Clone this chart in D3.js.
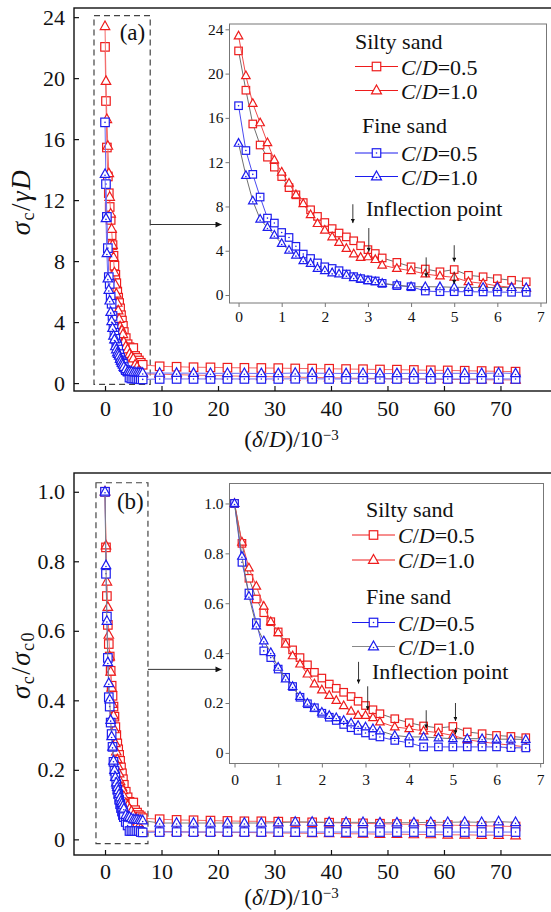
<!DOCTYPE html>
<html>
<head>
<meta charset="utf-8">
<script src="https://cdn.jsdelivr.net/npm/d3@7"></script>
<style>
  html, body { margin: 0; padding: 0; background: #fff; }
  svg { display: block; }
  text { font-family: "Liberation Serif", "Times New Roman", serif; fill: #111; }
</style>
</head>
<body>
<svg id="chart" width="551" height="912"></svg>
<script>
// Displacement ratio (δ/D)/10^-3 at the densely sampled start of the tests
const xEarly = [0, 0.17, 0.33, 0.5, 0.67, 0.83, 1.0, 1.17, 1.33, 1.5, 1.67, 1.83, 2.0, 2.17, 2.33,
                2.5, 2.67, 2.83, 3.0, 3.17, 3.33, 3.67, 4.0, 4.33, 4.67, 5.0, 5.33, 5.67, 6.0, 6.33, 6.67];
// ... and at the coarsely sampled remainder
const xLate = [9.67, 12.67, 15.67, 18.67, 21.67, 24.67, 27.67, 30.67, 33.67, 36.67, 39.67,
               42.67, 45.67, 48.67, 51.67, 54.67, 57.67, 60.67, 63.67, 66.67, 69.67, 72.67];

// (a) support pressure σc/γD
const siltyHalfA = [22.05, 18.5, 15.45, 13.55, 12.45, 11.55, 10.7, 9.7, 9.05, 8.35, 7.7, 7.1, 6.55, 6.0, 5.6,
                    5.25, 4.9, 4.45, 4.1, 3.75, 3.35, 2.95, 2.55, 2.35, 2.1, 2.3, 1.78, 1.65, 1.48, 1.33, 1.2];
const siltyOneA  = [23.4, 19.8, 17.3, 15.55, 13.75, 12.2, 11.1, 10.1, 9.05, 8.25, 7.25, 6.45, 5.85, 5.25, 4.75,
                    4.2, 3.7, 3.4, 3.45, 3.2, 2.7, 2.4, 2.2, 1.9, 1.72, 1.6, 1.2, 1.05, 0.82, 0.7, 0.6];
const fineHalfA  = [17.1, 13.05, 10.9, 8.85, 6.95, 6.5, 5.65, 5.2, 4.4, 3.7, 3.3, 2.9, 2.55, 2.4, 2.2,
                    1.9, 1.66, 1.48, 1.36, 1.27, 1.05, 0.85, 0.75, 0.36, 0.3, 0.3, 0.3, 0.28, 0.27, 0.25, 0.24];
const fineOneA   = [13.7, 10.8, 8.5, 6.85, 6.1, 5.4, 4.65, 4.05, 3.6, 3.1, 2.85, 2.4, 2.2, 2.0, 1.9,
                    1.78, 1.57, 1.45, 1.3, 1.2, 1.05, 0.9, 0.75, 0.75, 0.74, 0.7, 0.69, 0.68, 0.68, 0.67, 0.66];
const siltyHalfLateA = [1.1, 1.07, 1.04, 1.03, 1.01, 1.0, 0.99, 0.98, 0.96, 0.95, 0.94,
                        0.92, 0.91, 0.89, 0.88, 0.86, 0.84, 0.83, 0.81, 0.79, 0.77, 0.75];
const siltyOneLateA  = [0.58, 0.55, 0.52, 0.5, 0.47, 0.45, 0.43, 0.41, 0.39, 0.37, 0.35,
                        0.33, 0.31, 0.3, 0.28, 0.27, 0.25, 0.24, 0.23, 0.22, 0.21, 0.2];
const fineHalfLateA  = [0.27, 0.27, 0.27, 0.27, 0.27, 0.27, 0.27, 0.27, 0.28, 0.28, 0.27,
                        0.27, 0.27, 0.27, 0.27, 0.27, 0.27, 0.27, 0.27, 0.27, 0.27, 0.27];
const fineOneLateA   = [0.66, 0.65, 0.65, 0.64, 0.64, 0.64, 0.63, 0.63, 0.66, 0.65, 0.64,
                        0.63, 0.64, 0.62, 0.63, 0.64, 0.63, 0.64, 0.64, 0.63, 0.66, 0.63];

// (b) normalised support pressure σc/σc0
const siltyHalfB = [1.0, 0.84, 0.70, 0.617, 0.562, 0.526, 0.485, 0.442, 0.413, 0.382, 0.353, 0.323, 0.30, 0.276, 0.259,
                    0.243, 0.226, 0.207, 0.19, 0.173, 0.157, 0.137, 0.121, 0.108, 0.10, 0.106, 0.084, 0.077, 0.07, 0.066, 0.061];
const siltyOneB  = [1.0, 0.845, 0.741, 0.668, 0.588, 0.526, 0.482, 0.436, 0.389, 0.356, 0.316, 0.276, 0.252, 0.23, 0.21,
                    0.189, 0.167, 0.15, 0.15, 0.141, 0.124, 0.104, 0.097, 0.088, 0.081, 0.07, 0.053, 0.044, 0.037, 0.031, 0.024];
const fineHalfB  = [1.0, 0.764, 0.641, 0.522, 0.409, 0.382, 0.336, 0.303, 0.266, 0.223, 0.197, 0.181, 0.159, 0.143, 0.13,
                    0.114, 0.101, 0.09, 0.08, 0.07, 0.064, 0.05, 0.04, 0.024, 0.024, 0.024, 0.024, 0.024, 0.024, 0.021, 0.02];
const fineOneB   = [1.0, 0.788, 0.628, 0.509, 0.449, 0.402, 0.343, 0.296, 0.266, 0.226, 0.199, 0.179, 0.163, 0.15, 0.141,
                    0.13, 0.12, 0.11, 0.104, 0.097, 0.088, 0.07, 0.064, 0.064, 0.06, 0.057, 0.057, 0.057, 0.055, 0.055, 0.054];
const siltyHalfLateB = [0.058, 0.056, 0.055, 0.054, 0.053, 0.052, 0.052, 0.051, 0.05, 0.049, 0.048,
                        0.047, 0.046, 0.045, 0.044, 0.043, 0.042, 0.041, 0.04, 0.039, 0.038, 0.037];
const siltyOneLateB  = [0.023, 0.022, 0.021, 0.021, 0.02, 0.02, 0.019, 0.018, 0.018, 0.017, 0.017,
                        0.016, 0.016, 0.015, 0.015, 0.014, 0.014, 0.013, 0.013, 0.012, 0.012, 0.011];
const fineHalfLateB  = [0.021, 0.021, 0.021, 0.021, 0.021, 0.021, 0.021, 0.021, 0.021, 0.021, 0.021,
                        0.021, 0.021, 0.021, 0.021, 0.021, 0.021, 0.021, 0.021, 0.021, 0.021, 0.021];
const fineOneLateB   = [0.047, 0.047, 0.047, 0.047, 0.047, 0.047, 0.047, 0.048, 0.05, 0.05, 0.049,
                        0.049, 0.049, 0.048, 0.048, 0.048, 0.049, 0.049, 0.05, 0.049, 0.051, 0.049];

// Tick labels
const mainXTicks = [0, 10, 20, 30, 40, 50, 60, 70];
const insetXTicks = [0, 1, 2, 3, 4, 5, 6, 7];
const yTicksA = [0, 4, 8, 12, 16, 20, 24];
const yTicksB = [0, 0.2, 0.4, 0.6, 0.8, 1.0];

// Inflection-point arrows in inset units: [x, from, to]
const inflectionA = [[2.65, 8.2, 6.5], [3.02, 6.05, 3.9], [4.35, 3.4, 1.6], [5.0, 4.5, 3.0], [5.0, 2.1, 1.0]];
const inflectionB = [[2.84, 0.365, 0.278], [3.05, 0.267, 0.171], [4.39, 0.171, 0.098], [5.06, 0.2, 0.128], [5.06, 0.1, 0.075]];

const RED = "#ee1c1c", BLUE = "#1c1cee";

const svg = d3.select("#chart");
svg.append("rect").attr("width", 551).attr("height", 912).attr("fill", "#fff");

const defs = svg.append("defs");
defs.append("marker").attr("id", "headBig").attr("viewBox", "0 0 10 10")
  .attr("refX", 10).attr("refY", 5).attr("markerWidth", 10).attr("markerHeight", 6)
  .attr("markerUnits", "userSpaceOnUse").attr("orient", "auto")
  .append("path").attr("d", "M0,0L10,5L0,10z").attr("fill", "#111");
defs.append("marker").attr("id", "headSmall").attr("viewBox", "0 0 10 10")
  .attr("refX", 10).attr("refY", 5).attr("markerWidth", 6).attr("markerHeight", 4)
  .attr("markerUnits", "userSpaceOnUse").attr("orient", "auto")
  .append("path").attr("d", "M0,0L10,5L0,10z").attr("fill", "#111");

function drawMarker(g, shape, color, x, y, size, dot) {
  if (shape === "square") {
    g.append("rect").attr("x", x - size / 2).attr("y", y - size / 2)
      .attr("width", size).attr("height", size)
      .attr("fill", "#fff").attr("stroke", color).attr("stroke-width", 1.2);
  } else {
    const h = size * 0.9;
    g.append("path")
      .attr("d", `M${x},${y - h * 0.62}L${x + size / 2},${y + h * 0.38}L${x - size / 2},${y + h * 0.38}Z`)
      .attr("fill", "#fff").attr("stroke", color).attr("stroke-width", 1.2);
  }
  if (dot) {
    g.append("circle").attr("cx", x).attr("cy", shape === "square" ? y : y + 1)
      .attr("r", 0.8).attr("fill", color);
  }
}

function drawSeries(g, xs, ys, x, y, lineColor, shape, markColor, size, dot) {
  const pts = xs.map((d, i) => [d, ys[i]]);
  g.append("path").datum(pts)
    .attr("d", d3.line().x(d => x(d[0])).y(d => y(d[1])))
    .attr("fill", "none").attr("stroke", lineColor).attr("stroke-width", 1);
  const mg = g.append("g");
  pts.forEach(p => drawMarker(mg, shape, markColor, x(p[0]), y(p[1]), size, dot));
}

function styleAxis(sel, color, width) {
  sel.select(".domain").remove();
  sel.selectAll(".tick line").attr("stroke", color).attr("stroke-width", width);
  sel.selectAll(".tick text").style("font-family", '"Liberation Serif", serif').attr("fill", "#111");
}

function yLabel(g, parts, cx, cy) {
  const t = g.append("text").attr("transform", `translate(${cx},${cy}) rotate(-90)`)
    .attr("text-anchor", "middle").style("font-size", "27px").style("letter-spacing", "1.5px");
  parts.forEach(p => {
    const s = t.append("tspan").text(p.t);
    if (p.i) s.style("font-style", "italic");
    if (p.sub) s.attr("baseline-shift", "-22%").style("font-size", "18px");
  });
}

function legendLabel(g, x, y, val) {
  const t = g.append("text").attr("x", x).attr("y", y).style("font-size", "22px");
  t.append("tspan").text("C").style("font-style", "italic");
  t.append("tspan").text("/");
  t.append("tspan").text("D").style("font-style", "italic");
  t.append("tspan").text("=" + val);
}

function panel(cfg) {
  const g = svg.append("g");
  const x = d3.scaleLinear().domain(cfg.xDom).range([cfg.left, cfg.right]);
  const y = d3.scaleLinear().domain(cfg.yDom).range([cfg.bottom, cfg.top]);

  // frame of the full-range plot
  g.append("rect").attr("x", cfg.left).attr("y", cfg.top)
    .attr("width", cfg.right - cfg.left).attr("height", cfg.bottom - cfg.top)
    .attr("fill", "none").attr("stroke", "#111").attr("stroke-width", 1.4);

  const clipId = "clip" + cfg.id;
  defs.append("clipPath").attr("id", clipId).append("rect")
    .attr("x", cfg.left).attr("y", cfg.top).attr("width", cfg.right - cfg.left).attr("height", cfg.bottom - cfg.top);

  const gx = g.append("g").attr("transform", `translate(0,${cfg.bottom})`)
    .call(d3.axisBottom(x).tickValues(mainXTicks).tickSize(-5).tickPadding(cfg.xPad).tickFormat(d3.format("d")));
  styleAxis(gx, "#111", 1.2);
  gx.selectAll(".tick text").style("font-size", "22px");

  const gy = g.append("g").attr("transform", `translate(${cfg.left},0)`)
    .call(d3.axisLeft(y).tickValues(cfg.yTicks).tickSize(-5).tickPadding(9).tickFormat(cfg.yFmt));
  styleAxis(gy, "#111", 1.2);
  gy.selectAll(".tick text").style("font-size", "22px");

  // dashed box around the early stage
  g.append("rect").attr("x", x(cfg.box[0])).attr("y", y(cfg.box[3]))
    .attr("width", x(cfg.box[1]) - x(cfg.box[0])).attr("height", y(cfg.box[2]) - y(cfg.box[3]))
    .attr("fill", "none").attr("stroke", "#444").attr("stroke-width", 1.2).attr("stroke-dasharray", "6,4");

  const xsAll = xEarly.concat(xLate);
  const plot = g.append("g").attr("clip-path", `url(#${clipId})`);
  const s = cfg.series;
  drawSeries(plot, xsAll, s.siltyHalf, x, y, "#f46a6a", "square", RED, 8.5, false);
  drawSeries(plot, xsAll, s.siltyOne, x, y, "#f46a6a", "triangle", RED, 9.5, false);
  drawSeries(plot, xsAll, s.fineHalf, x, y, "#6a6af4", "square", BLUE, 8.5, true);
  drawSeries(plot, xsAll, s.fineOne, x, y, cfg.fineOneMain, "triangle", BLUE, 9.5, true);

  g.append("text").attr("x", x(cfg.tag[0])).attr("y", y(cfg.tag[1]))
    .style("font-size", "23px").text(cfg.tagText);

  yLabel(g, cfg.yTitle, 30, cfg.yTitleY);

  const xt = g.append("text").attr("x", x(33)).attr("y", cfg.xTitleY)
    .attr("text-anchor", "middle").style("font-size", "23px");
  xt.append("tspan").text("(");
  xt.append("tspan").text("δ").style("font-style", "italic");
  xt.append("tspan").text("/");
  xt.append("tspan").text("D").style("font-style", "italic");
  xt.append("tspan").text(")/10");
  xt.append("tspan").text("−3").attr("baseline-shift", "48%").style("font-size", "15px");

  // inset with the early stage enlarged
  const ix = d3.scaleLinear().domain(cfg.inset.xDom).range([cfg.inset.left, cfg.inset.right]);
  const iy = d3.scaleLinear().domain(cfg.inset.yDom).range([cfg.inset.bottom, cfg.inset.top]);
  const ig = g.append("g");
  ig.append("rect").attr("x", cfg.inset.left).attr("y", cfg.inset.top)
    .attr("width", cfg.inset.right - cfg.inset.left).attr("height", cfg.inset.bottom - cfg.inset.top)
    .attr("fill", "#fff").attr("stroke", "#777").attr("stroke-width", 1);

  // arrow from the dashed box to the inset
  g.append("line").attr("x1", x(cfg.box[1])).attr("x2", cfg.inset.left - 8)
    .attr("y1", y(cfg.arrowY)).attr("y2", y(cfg.arrowY))
    .attr("stroke", "#333").attr("stroke-width", 1).attr("marker-end", "url(#headBig)");

  const igx = ig.append("g").attr("transform", `translate(0,${cfg.inset.bottom})`)
    .call(d3.axisBottom(ix).tickValues(insetXTicks).tickSize(4).tickPadding(cfg.inset.xPad).tickFormat(d3.format("d")));
  styleAxis(igx, "#777", 1);
  igx.selectAll(".tick text").style("font-size", "15.5px");
  const igy = ig.append("g").attr("transform", `translate(${cfg.inset.left},0)`)
    .call(d3.axisLeft(iy).tickValues(cfg.yTicks).tickSize(4).tickPadding(2).tickFormat(cfg.yFmt));
  styleAxis(igy, "#777", 1);
  igy.selectAll(".tick text").style("font-size", "15.5px");

  drawSeries(ig, xEarly, s.siltyHalf.slice(0, xEarly.length), ix, iy, "#707070", "square", RED, 7.5, false);
  drawSeries(ig, xEarly, s.siltyOne.slice(0, xEarly.length), ix, iy, "#f04a4a", "triangle", RED, 8.5, false);
  drawSeries(ig, xEarly, s.fineHalf.slice(0, xEarly.length), ix, iy, "#4a4af0", "square", BLUE, 7.5, true);
  drawSeries(ig, xEarly, s.fineOne.slice(0, xEarly.length), ix, iy, "#707070", "triangle", BLUE, 8.5, true);

  cfg.arrows.forEach(a => {
    ig.append("line").attr("x1", ix(a[0])).attr("x2", ix(a[0]))
      .attr("y1", iy(a[1])).attr("y2", iy(a[2]))
      .attr("stroke", "#222").attr("stroke-width", 0.9).attr("marker-end", "url(#headSmall)");
  });

  // legend
  const L = cfg.legend;
  const lg = ig.append("g");
  lg.append("text").attr("x", L.head1[0]).attr("y", L.head1[1]).style("font-size", "22px").text("Silty sand");
  lg.append("text").attr("x", L.head2[0]).attr("y", L.head2[1]).style("font-size", "22px").text("Fine sand");
  const rows = [
    { y: L.rows[0], line: RED, shape: "square", c: RED, dot: false, v: "0.5" },
    { y: L.rows[1], line: RED, shape: "triangle", c: RED, dot: false, v: "1.0" },
    { y: L.rows[2], line: BLUE, shape: "square", c: BLUE, dot: true, v: "0.5" },
    { y: L.rows[3], line: L.lastLine, shape: "triangle", c: BLUE, dot: true, v: "1.0" }
  ];
  rows.forEach(r => {
    lg.append("line").attr("x1", L.x0).attr("x2", L.x0 + 43).attr("y1", r.y).attr("y2", r.y)
      .attr("stroke", r.line).attr("stroke-width", 1);
    drawMarker(lg, r.shape, r.c, L.x0 + 21.5, r.y, r.shape === "square" ? 8.5 : 10, r.dot);
    legendLabel(lg, L.x0 + 46, r.y + 8, r.v);
  });
  lg.append("text").attr("x", L.infl[0]).attr("y", L.infl[1]).style("font-size", "22px").text("Inflection point");
}

panel({
  id: "a",
  left: 74, right: 553, top: 8, bottom: 391,
  xDom: [-5.49, 79.3], yDom: [-0.52, 24.6],
  yTicks: yTicksA, yFmt: d3.format("d"), xPad: 9,
  box: [-1.95, 8.0, -0.08, 24.1], arrowY: 10.4,
  tag: [2.6, 22.5], tagText: "(a)",
  yTitle: [{ t: "σ", i: true }, { t: "c", sub: true }, { t: "/" }, { t: "γD", i: true }],
  yTitleY: 202, xTitleY: 447,
  fineOneMain: "#6a6af4",
  series: {
    siltyHalf: siltyHalfA.concat(siltyHalfLateA), siltyOne: siltyOneA.concat(siltyOneLateA),
    fineHalf: fineHalfA.concat(fineHalfLateA), fineOne: fineOneA.concat(fineOneLateA)
  },
  inset: { left: 229.5, right: 546.5, top: 24, bottom: 303, xDom: [-0.21, 7.14], yDom: [-0.72, 24.48], xPad: 4 },
  arrows: inflectionA,
  legend: { head1: [355, 49], head2: [362, 133], rows: [66.5, 90.5, 153, 176.5], x0: 355, lastLine: BLUE, infl: [366, 216] }
});

panel({
  id: "b",
  left: 74, right: 553, top: 473, bottom: 855,
  xDom: [-5.49, 79.3], yDom: [-0.045, 1.054],
  yTicks: yTicksB, yFmt: d => d === 0 ? "0" : d3.format(".1f")(d), xPad: 8,
  box: [-1.6, 7.6, -0.012, 1.026], arrowY: 0.489,
  tag: [2.1, 0.95], tagText: "(b)",
  yTitle: [{ t: "σ", i: true }, { t: "c", sub: true }, { t: "/" }, { t: "σ", i: true }, { t: "c0", sub: true }],
  yTitleY: 665, xTitleY: 905,
  fineOneMain: "#808080",
  series: {
    siltyHalf: siltyHalfB.concat(siltyHalfLateB), siltyOne: siltyOneB.concat(siltyOneLateB),
    fineHalf: fineHalfB.concat(fineHalfLateB), fineOne: fineOneB.concat(fineOneLateB)
  },
  inset: { left: 229.5, right: 543.5, top: 483.5, bottom: 763.5, xDom: [-0.115, 7.076], yDom: [-0.0425, 1.08], xPad: 6 },
  arrows: inflectionB,
  legend: { head1: [366, 517], head2: [366, 604], rows: [535, 560, 622.5, 646.5], x0: 352, lastLine: "#888", infl: [372, 679] }
});
</script>
</body>
</html>
